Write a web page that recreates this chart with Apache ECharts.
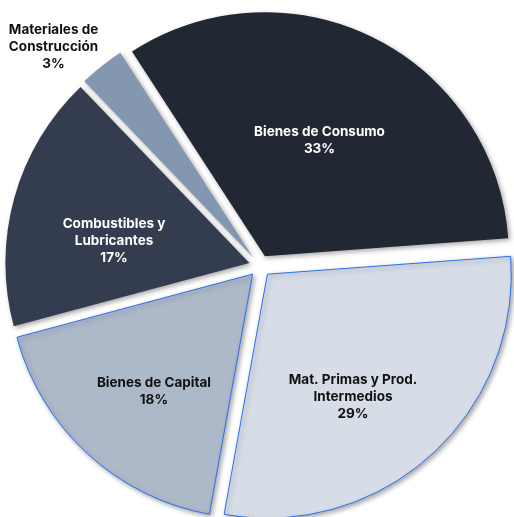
<!DOCTYPE html>
<html>
<head>
<meta charset="utf-8">
<script src="https://cdn.jsdelivr.net/npm/echarts@6/dist/echarts.min.js"></script>
<style>
  html, body { margin: 0; padding: 0; background: #fff; }
  #chart { width: 514px; height: 517px; }
</style>
</head>
<body>
<div id="chart"></div>
<script>
// shares of imports by type (%)
const categories = [
  "Bienes de Consumo",
  "Mat. Primas y Prod.\nIntermedios",
  "Bienes de Capital",
  "Combustibles y\nLubricantes",
  "Materiales de\nConstrucción",
];
const shares = [33, 29, 18, 17, 3];

const fills = ["#222833", "#d6dde7", "#adb8c9", "#333d4f", "#8497b0"];
const labelColors = ["#fff", "#111", "#111", "#fff", "#111"];
const outlined = [false, true, true, false, false];
// label nudges from the default inside spot
const labelShift = [[-1, -4], [2, 30], [-14, 25], [-15, 12], [-122, -112]];

const chart = echarts.init(document.getElementById("chart"));

const data = categories.map((name, i) => ({
  name: name,
  value: shares[i],
  selected: true,
  itemStyle: {
    color: fills[i],
    borderColor: outlined[i] ? "#2d6ff0" : fills[i],
    borderWidth: outlined[i] ? 1 : 0,
  },
  label: { color: labelColors[i] },
}));

chart.setOption({
  animation: false,
  series: [
    {
      type: "pie",
      center: [260, 266],
      radius: [0, 244],
      startAngle: 123,
      clockwise: true,
      selectedMode: "multiple",
      selectedOffset: 11,
      data: data,
      itemStyle: {
        shadowBlur: 5,
        shadowOffsetX: 2,
        shadowOffsetY: 2,
        shadowColor: "rgba(0,0,0,0.35)",
      },
      label: {
        position: "inside",
        formatter: "{b}\n{d}%",
        fontFamily: "Inter",
        fontWeight: "bold",
        fontSize: 13.5,
        lineHeight: 17,
        align: "center",
      },
      labelLine: { show: false },
      labelLayout: function (p) {
        const s = labelShift[p.dataIndex];
        return { dx: s[0], dy: s[1] };
      },
      emphasis: { disabled: true },
    },
  ],
});
</script>
</body>
</html>
